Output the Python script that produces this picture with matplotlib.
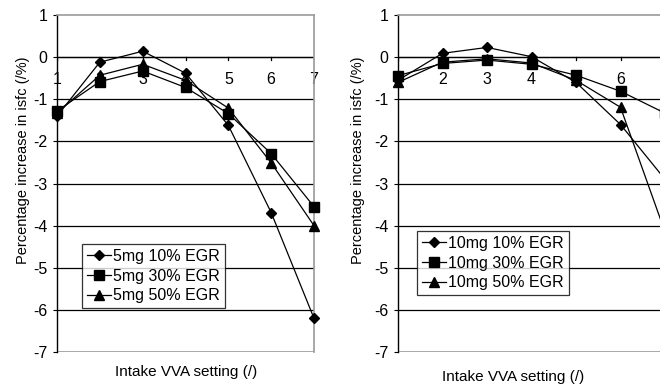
import matplotlib.pyplot as plt
import numpy as np

plt.rcParams['font.family'] = ['Liberation Sans', 'DejaVu Sans']
plt.rcParams['axes.unicode_minus'] = False

vva = [1, 2, 3, 4, 5, 6, 7]

# 5 mg injection
egr10_5mg = [-1.40, -0.12, 0.14, -0.38, -1.62, -3.69, -6.20]
egr30_5mg = [-1.28, -0.58, -0.33, -0.72, -1.34, -2.29, -3.55]
egr50_5mg = [-1.33, -0.43, -0.17, -0.55, -1.21, -2.51, -4.00]

# 10 mg injection
egr10_10mg = [-0.55, 0.09, 0.23, 0.01, -0.60, -1.60, -2.90]
egr30_10mg = [-0.44, -0.15, -0.07, -0.17, -0.43, -0.81, -1.33]
egr50_10mg = [-0.60, -0.12, -0.04, -0.14, -0.55, -1.19, -4.15]

yticks = list(range(-7, 2))
markers = ['D', 's', '^']
msizes = [5.5, 7, 7.5]


def draw_panel(ax, series, labels, legend_box, shown_xlabels, ylabel_x):
    ax.set_xlim(1, 7)
    ax.set_ylim(-7, 1)
    ax.set_yticks(yticks)
    ax.set_xticks(vva)
    for y in yticks[1:-1]:
        ax.axhline(y, color='black', lw=0.9, zorder=0.5)

    for s, lab, m, ms in zip(series, labels, markers, msizes):
        ax.plot(vva, s, color='black', lw=0.9, marker=m, markersize=ms,
                label=lab, clip_on=False, zorder=3)

    for side in ['top', 'right']:
        ax.spines[side].set_color('#999999')
        ax.spines[side].set_linewidth(1.2)
    ax.spines['bottom'].set_visible(False)
    ax.axhline(-7, color='#999999', lw=1.2, zorder=0.5)
    ax.spines['left'].set_linewidth(1.0)
    ax.spines['left'].set_zorder(1)

    # x axis crossing at y = 0, like a category axis
    ax.axhline(0, color='black', lw=0.9, zorder=0.6)
    for x in vva:
        ax.plot([x, x], [0, -0.08], color='black', lw=0.9, zorder=0.6)
        if x in shown_xlabels:
            ax.text(x, -0.36, str(x), ha='center', va='top', fontsize=11.5, zorder=1)
    ax.tick_params(axis='x', bottom=False, labelbottom=False)
    ax.tick_params(axis='y', direction='out', length=3, labelsize=11.5, pad=4)
    ax.set_ylabel('Percentage increase in isfc (/%)', fontsize=10.5)
    ax.yaxis.set_label_coords(ylabel_x, 0.57)

    leg = ax.legend(loc='upper left', bbox_to_anchor=legend_box, frameon=True,
                    fancybox=False, edgecolor='black', fontsize=11.5,
                    handlelength=1.5, handletextpad=0.15, borderpad=0.3,
                    labelspacing=0.3, borderaxespad=0)
    leg.get_frame().set_linewidth(0.9)
    leg.set_zorder(5)


fig = plt.figure(figsize=(6.6, 3.85), dpi=100)
W, H = 660, 385

ax1 = fig.add_axes([57 / W, 33 / H, 257 / W, 337 / H])
draw_panel(ax1, [egr10_5mg, egr30_5mg, egr50_5mg],
           ['5mg 10% EGR', '5mg 30% EGR', '5mg 50% EGR'],
           ((82 - 57) / 257, (352 - 244) / 337), vva, -0.105)
fig.text(186 / W, 1 - 372 / H, 'Intake VVA setting (/)', ha='center', va='center',
         fontsize=11)

ax2 = fig.add_axes([398 / W, 33 / H, 267 / W, 337 / H])
draw_panel(ax2, [egr10_10mg, egr30_10mg, egr50_10mg],
           ['10mg 10% EGR', '10mg 30% EGR', '10mg 50% EGR'],
           ((417 - 398) / 267, (352 - 231) / 337), vva[:-1], -0.124)
fig.text(513 / W, 1 - 377 / H, 'Intake VVA setting (/)', ha='center', va='center',
         fontsize=11)

fig.savefig('out.png', dpi=100)
